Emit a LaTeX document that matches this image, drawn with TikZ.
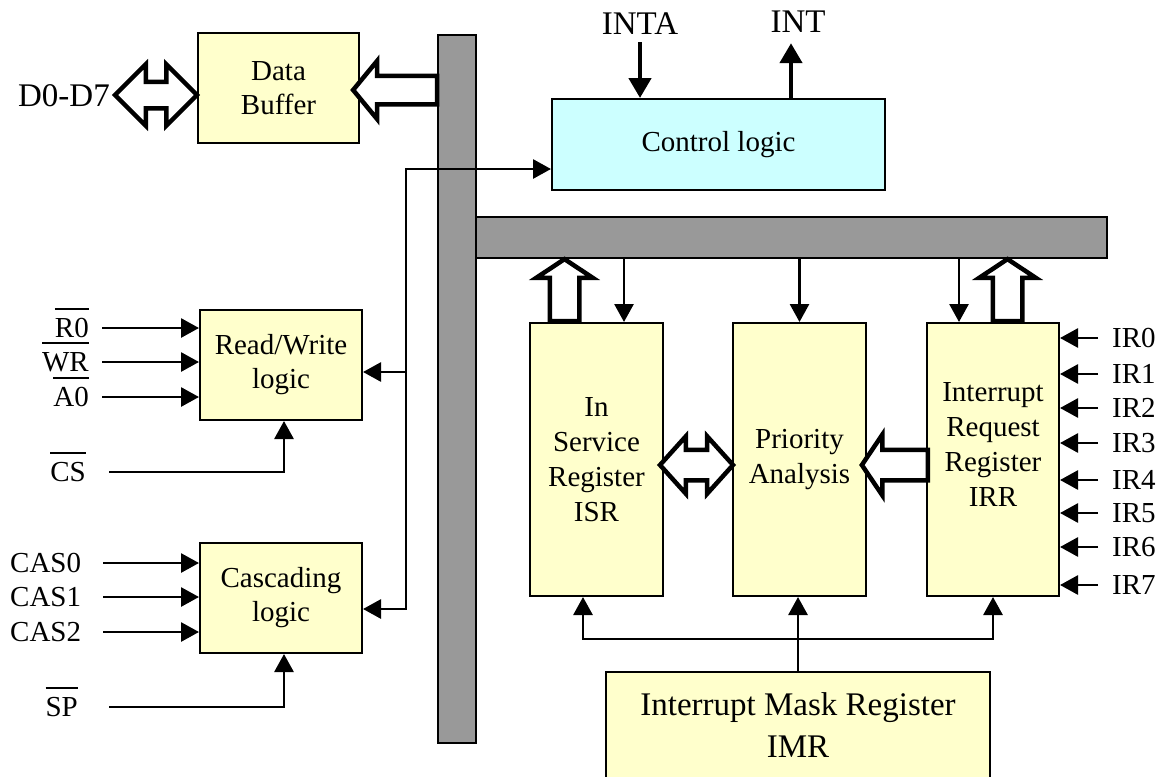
\documentclass[tikz,border=0pt]{standalone}
\usepackage{fontspec}
\setmainfont{Liberation Serif}
\usetikzlibrary{arrows.meta,shapes.arrows}

\definecolor{boxyellow}{HTML}{FFFFCC}
\definecolor{ctrlcyan}{HTML}{CCFFFF}
\definecolor{busgray}{HTML}{999999}

% bar over an active-low signal name
\newcommand\nbar[1]{\sbox0{#1}\rlap{\smash{\rule[28pt]{\wd0}{1.6pt}}}\usebox0}

\begin{document}
\begin{tikzpicture}[x=1pt,y=-1pt,>={Triangle[length=18pt,width=19pt]},
  box/.style={draw,line width=2pt,fill=boxyellow,align=center,inner sep=0pt,font=\fontsize{29}{34}\selectfont},
  bus/.style={draw,line width=2pt,fill=busgray,inner sep=0pt},
  fat/.style={draw,line width=4.5pt,fill=white},
  lbl/.style={inner sep=0pt,text height=19.5pt,text depth=0pt,font=\fontsize{29}{34}\selectfont},
  biglbl/.style={inner sep=0pt,text height=22pt,text depth=0pt,font=\fontsize{33}{40}\selectfont},
  sig/.style={line width=2.8pt,->},
  thk/.style={line width=4.5pt,-{Triangle[length=20pt,width=22pt]}}]
\useasboundingbox (0,0) rectangle (1164,776);

% buses
\node[bus,minimum width=38pt,minimum height=708pt] (vbus) at (457,389) {};
\node[bus,minimum width=631pt,minimum height=41pt] (hbus) at (791.5,237.5) {};

% blocks
\node[box,minimum width=161pt,minimum height=110pt] (buf) at (278.5,88) {Data\\Buffer};
\node[box,fill=ctrlcyan,minimum width=333pt,minimum height=91pt] (ctrl) at (718.5,144.5) {Control logic};
\node[box,minimum width=162pt,minimum height=110pt] (rw) at (281,365) {Read/Write\\logic};
\node[box,minimum width=162pt,minimum height=110pt] (cas) at (281,598) {Cascading\\logic};
\node[box,font=\fontsize{29}{35}\selectfont,minimum width=133pt,minimum height=273pt] (isr) at (596.5,459.5) {In\\Service\\Register\\ISR};
\node[box,font=\fontsize{29}{35}\selectfont,minimum width=133pt,minimum height=273pt] (pri) at (799.5,459.5) {Priority\\Analysis};
\node[box,font=\fontsize{29}{35}\selectfont,minimum width=132pt,minimum height=273pt,text depth=30pt] (irr) at (993,459.5) {Interrupt\\Request\\Register\\IRR};
\node[box,font=\fontsize{33}{42}\selectfont,minimum width=384pt,minimum height=106pt] (imr) at (798,725) {Interrupt Mask Register\\IMR};

% data bus side
\node[biglbl,anchor=east] (d07) at (110,95) {D0-D7};
\node[fat,double arrow,inner sep=11pt,minimum height=82pt,double arrow head extend=17.5pt] (dbus) at (156,95) {};
\node[fat,single arrow,shape border rotate=180,inner sep=12pt,minimum height=84pt,single arrow head extend=15pt,single arrow tip angle=101] (bufin) at (401,90) {};

% control logic
\node[biglbl] (inta) at (640,24) {INTA};
\node[biglbl] (int) at (798,22) {INT};
\draw[thk] ([yshift=-7pt]inta.south) -- (inta.south |- ctrl.north);
\draw[thk] ([xshift=-7pt]int.south |- ctrl.north) -- ([xshift=-7pt,yshift=-10pt]int.south);
\coordinate (tap) at (406,169);
\draw[line width=2.8pt,<->] ([yshift=-11pt]cas.east) -| (tap) -- (tap -| ctrl.west);
\draw[sig] ([yshift=-7pt]rw.east -| tap) -- ([yshift=-7pt]rw.east);

% read/write inputs
\foreach \n/\t/\y in {r0/{\nbar{R0}}/328,wr/{\nbar{WR}}/362,a0/{\nbar{A0}}/397}{
  \node[lbl,anchor=east] (\n) at (89,\y) {\t};
  \draw[sig] ([xshift=13pt]\n.east) -- (\n.east -| rw.west);
}
\node[lbl,anchor=east] (cs) at (86,472) {\nbar{CS}};
\draw[sig] ([xshift=23pt]cs.east) -| ([xshift=3pt]rw.south);

% cascading inputs
\foreach \i/\y in {0/563,1/597,2/632}{
  \node[lbl,anchor=west] (cas\i) at (10,\y) {CAS\i};
  \draw[sig] ([xshift=22pt]cas\i.east) -- (cas\i.east -| cas.west);
}
\node[lbl,anchor=east] (sp) at (78,707) {\nbar{SP}};
\draw[sig] ([xshift=31pt]sp.east) -| ([xshift=3pt]cas.south);

% inner bus to registers
\node[fat,single arrow,shape border rotate=90,inner sep=12.5pt,minimum height=62pt,single arrow head extend=13.5pt,single arrow tip angle=113] (isrup) at (564.5,295) {};
\node[fat,single arrow,shape border rotate=90,inner sep=12.5pt,minimum height=62pt,single arrow head extend=13.5pt,single arrow tip angle=113] (irrup) at (1007.5,295) {};
\draw[sig] ([xshift=27.5pt]isr.north |- hbus.south) -- ([xshift=27.5pt]isr.north);
\draw[sig] (pri.north |- hbus.south) -- (pri.north);
\draw[sig] ([xshift=-34pt]irr.north |- hbus.south) -- ([xshift=-34pt]irr.north);

% between registers
\node[fat,double arrow,inner sep=13pt,minimum height=73pt,double arrow head extend=13.5pt,double arrow tip angle=96] (isrpri) at (696.5,465) {};
\node[fat,single arrow,shape border rotate=180,inner sep=13pt,minimum height=66pt,single arrow head extend=15pt,single arrow tip angle=112] (irrpri) at (900,465) {};

% interrupt requests
\foreach \i/\y in {0/338,1/374,2/408,3/443,4/480,5/513,6/547,7/585}{
  \node[lbl,anchor=west] (ir\i) at (1112,\y) {IR\i};
  \draw[sig] ([xshift=-14pt]ir\i.west) -- (ir\i.west -| irr.east);
}

% mask register
\coordinate (mrow) at (798,639);
\draw[sig] (imr.north) -- (imr.north |- pri.south);
\draw[sig] (mrow) -| ([xshift=-13.5pt]isr.south);
\draw[sig] (mrow) -| (irr.south);
\end{tikzpicture}
\end{document}
